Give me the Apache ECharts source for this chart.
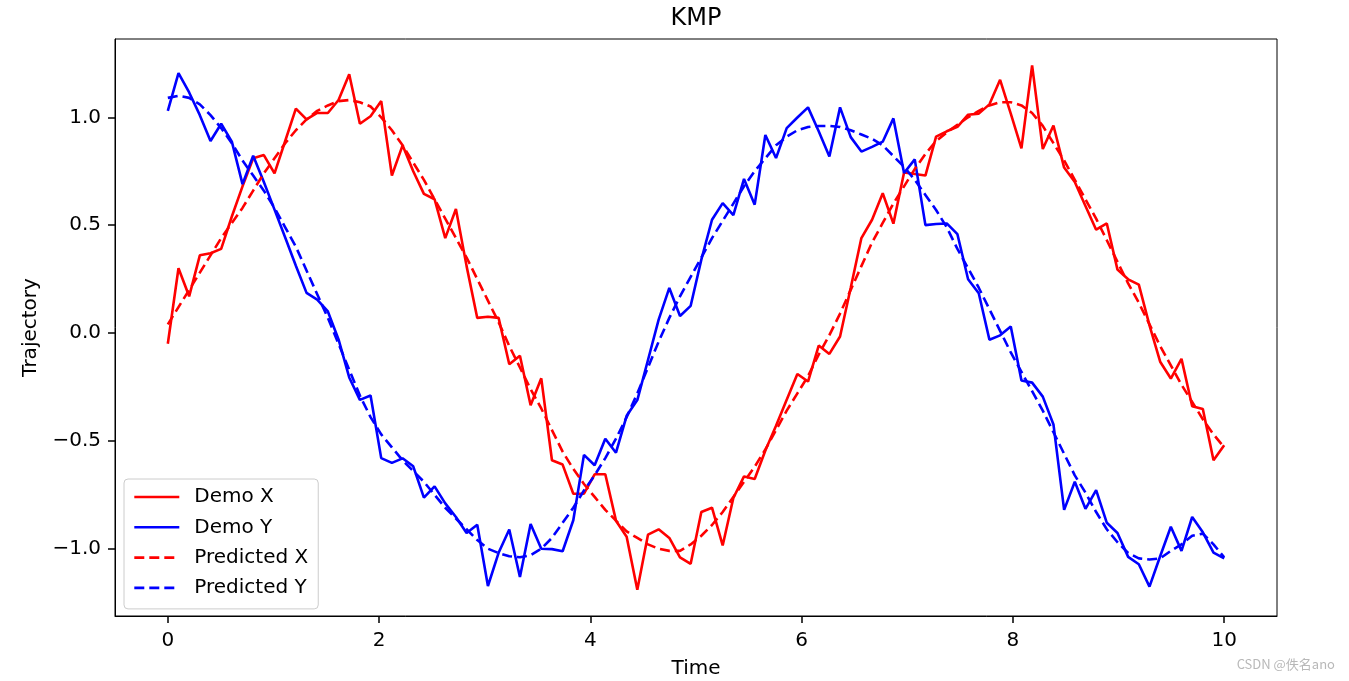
<!DOCTYPE html>
<html>
<head>
<meta charset="utf-8">
<script src="https://cdn.jsdelivr.net/npm/echarts@6/dist/echarts.min.js"></script>
<style>
  html, body { margin: 0; padding: 0; background: #fff; }
  #chart { width: 1349px; height: 681px; }
</style>
</head>
<body>
<div id="chart"></div>
<script>
// ---- data ----
const tStart = 0, tEnd = 10, nSamples = 100;   // time sampling grid (linspace)

const demoX = [
  -0.05, 0.30, 0.17, 0.36, 0.37, 0.39, 0.54, 0.68, 0.81, 0.825,
  0.74, 0.89, 1.04, 0.99, 1.02, 1.02, 1.08, 1.20, 0.97, 1.005,
  1.075, 0.73, 0.87, 0.75, 0.645, 0.62, 0.44, 0.575, 0.31, 0.07,
  0.075, 0.07, -0.145, -0.105, -0.335, -0.21, -0.59, -0.61, -0.745, -0.745,
  -0.655, -0.655, -0.87, -0.945, -1.19, -0.935, -0.91, -0.95, -1.04, -1.07,
  -0.83, -0.81, -0.985, -0.765, -0.665, -0.677, -0.545, -0.43, -0.31, -0.19,
  -0.225, -0.058, -0.097, -0.016, 0.21, 0.44, 0.525, 0.648, 0.507, 0.744,
  0.737, 0.73, 0.91, 0.935, 0.956, 1.012, 1.017, 1.06, 1.174, 1.017,
  0.856, 1.241, 0.853, 0.962, 0.767, 0.70, 0.589, 0.479, 0.508, 0.294,
  0.249, 0.224, 0.035, -0.133, -0.211, -0.12, -0.34, -0.352, -0.59, -0.52
];

const demoY = [
  1.03, 1.205, 1.115, 1.01, 0.89, 0.97, 0.887, 0.69, 0.822, 0.70,
  0.572, 0.443, 0.312, 0.186, 0.155, 0.10, -0.03, -0.206, -0.31, -0.29,
  -0.58, -0.602, -0.581, -0.618, -0.763, -0.711, -0.79, -0.853, -0.927, -0.889,
  -1.173, -1.019, -0.911, -1.131, -0.885, -1.0, -1.002, -1.012, -0.868, -0.565,
  -0.613, -0.49, -0.555, -0.384, -0.311, -0.125, 0.062, 0.209, 0.079, 0.126,
  0.34, 0.525, 0.602, 0.547, 0.714, 0.595, 0.918, 0.811, 0.95, 0.999,
  1.046, 0.935, 0.818, 1.046, 0.908, 0.841, 0.863, 0.887, 0.995, 0.742,
  0.805, 0.50, 0.505, 0.508, 0.458, 0.249, 0.184, -0.031, -0.011, 0.03,
  -0.22, -0.23, -0.295, -0.424, -0.82, -0.69, -0.815, -0.728, -0.88, -0.927,
  -1.038, -1.072, -1.176, -1.035, -0.898, -1.01, -0.853, -0.924, -1.018, -1.045
];

const predX = [
  0.04, 0.12, 0.20, 0.28, 0.36, 0.44, 0.51, 0.58, 0.66, 0.74,
  0.81, 0.88, 0.94, 0.99, 1.03, 1.055, 1.075, 1.08, 1.07, 1.05,
  1.00, 0.94, 0.87, 0.79, 0.71, 0.62, 0.53, 0.44, 0.35, 0.25,
  0.15, 0.05, -0.06, -0.16, -0.26, -0.35, -0.45, -0.55, -0.63, -0.70,
  -0.76, -0.82, -0.87, -0.92, -0.95, -0.98, -1.00, -1.01, -1.01, -0.98,
  -0.94, -0.89, -0.83, -0.76, -0.69, -0.62, -0.54, -0.45, -0.36, -0.28,
  -0.20, -0.10, -0.01, 0.09, 0.20, 0.31, 0.42, 0.51, 0.60, 0.68,
  0.76, 0.83, 0.89, 0.93, 0.965, 1.00, 1.03, 1.055, 1.07, 1.07,
  1.055, 1.02, 0.96, 0.88, 0.80, 0.71, 0.62, 0.53, 0.43, 0.33,
  0.23, 0.14, 0.04, -0.06, -0.15, -0.24, -0.32, -0.40, -0.47, -0.53
];

const predY = [
  1.09, 1.10, 1.09, 1.06, 1.01, 0.95, 0.88, 0.80, 0.73, 0.66,
  0.58, 0.49, 0.40, 0.29, 0.18, 0.07, -0.05, -0.17, -0.29, -0.39,
  -0.47, -0.53, -0.59, -0.64, -0.69, -0.75, -0.81, -0.86, -0.91, -0.96,
  -1.00, -1.02, -1.035, -1.04, -1.03, -1.00, -0.95, -0.88, -0.81, -0.73,
  -0.66, -0.58, -0.49, -0.39, -0.28, -0.16, -0.04, 0.07, 0.17, 0.26,
  0.35, 0.44, 0.52, 0.60, 0.68, 0.75, 0.81, 0.87, 0.91, 0.94,
  0.955, 0.96, 0.96, 0.955, 0.94, 0.92, 0.90, 0.87, 0.82, 0.77,
  0.71, 0.64, 0.57, 0.49, 0.39, 0.30, 0.21, 0.11, 0.01, -0.09,
  -0.18, -0.27, -0.36, -0.46, -0.56, -0.66, -0.74, -0.83, -0.91, -0.97,
  -1.02, -1.045, -1.05, -1.045, -1.01, -0.98, -0.94, -0.93, -0.98, -1.04
];

const xTicks = [0, 2, 4, 6, 8, 10];
const yTicks = [-1.0, -0.5, 0.0, 0.5, 1.0];
const seriesNames = ['Demo X', 'Demo Y', 'Predicted X', 'Predicted Y'];

// ---- build ----
const time = [];
for (let i = 0; i < nSamples; i++) time.push(tStart + (tEnd - tStart) * i / (nSamples - 1));
const pairs = arr => arr.map((v, i) => [time[i], v]);

const FONT = 'DejaVu Sans';
const chart = echarts.init(document.getElementById('chart'), null, { renderer: 'canvas' });

const fmtY = v => (v < 0 ? '\u2212' : '') + Math.abs(v).toFixed(1);

function lineSeries(name, data, color, dashed) {
  return {
    name, type: 'line', data: pairs(data),
    symbol: 'none', showSymbol: false, animation: false,
    lineStyle: { color, width: 2.6, type: dashed ? [10, 5] : 'solid' },
    itemStyle: { color },
    emphasis: { disabled: true }
  };
}

chart.setOption({
  animation: false,
  backgroundColor: '#fff',
  textStyle: { fontFamily: FONT },
  graphic: [
    { type: 'text', x: 696, y: 19, style: { text: 'KMP', fill: '#000', font: '24px "DejaVu Sans"', textAlign: 'center', textVerticalAlign: 'middle' } },
    { type: 'text', right: 14, bottom: 10, style: { text: 'CSDN @佚名ano', fill: '#b8b8b8', font: '13px "Noto Sans CJK SC"' } }
  ],
  grid: {
    left: 115, right: 72, top: 39, bottom: 65,
    containLabel: false, outerBoundsMode: 'none',
    show: true, borderColor: '#000', borderWidth: 1, backgroundColor: 'transparent'
  },
  legend: {
    orient: 'vertical', left: 124, top: 479,
    data: seriesNames,
    itemWidth: 45, itemHeight: 14, itemGap: 10.3,
    padding: [8, 10, 11, 9],
    backgroundColor: 'rgba(255,255,255,0.8)',
    borderColor: '#cccccc', borderWidth: 1, borderRadius: 4,
    selectedMode: false,
    itemStyle: { opacity: 0 },
    lineStyle: { width: 2.6 },
    textStyle: { fontFamily: FONT, fontSize: 20, color: '#000', padding: [0, 0, 0, 10], lineHeight: 20 }
  },
  xAxis: {
    type: 'value', min: -0.5, max: 10.5,
    name: 'Time', nameLocation: 'middle', nameGap: 43,
    nameTextStyle: { fontFamily: FONT, fontSize: 20, color: '#000' },
    axisLine: { show: true, onZero: false, lineStyle: { color: '#000', width: 1 } },
    axisTick: { show: true, length: 7, inside: false, customValues: xTicks, lineStyle: { color: '#000', width: 1.5 } },
    axisLabel: { customValues: xTicks, margin: 15, fontFamily: FONT, fontSize: 20, color: '#000', formatter: v => String(v) },
    splitLine: { show: false }
  },
  yAxis: {
    type: 'value', min: -1.312, max: 1.363,
    name: 'Trajectory', nameLocation: 'middle', nameGap: 74, nameRotate: 90,
    nameTextStyle: { fontFamily: FONT, fontSize: 20, color: '#000' },
    axisLine: { show: true, onZero: false, lineStyle: { color: '#000', width: 1 } },
    axisTick: { show: true, length: 7, inside: false, customValues: yTicks, lineStyle: { color: '#000', width: 1.5 } },
    axisLabel: { customValues: yTicks, margin: 14, fontFamily: FONT, fontSize: 20, color: '#000', formatter: fmtY },
    splitLine: { show: false }
  },
  series: [
    lineSeries(seriesNames[0], demoX, '#ff0000', false),
    lineSeries(seriesNames[1], demoY, '#0000ff', false),
    lineSeries(seriesNames[2], predX, '#ff0000', true),
    lineSeries(seriesNames[3], predY, '#0000ff', true)
  ]
});
</script>
</body>
</html>
